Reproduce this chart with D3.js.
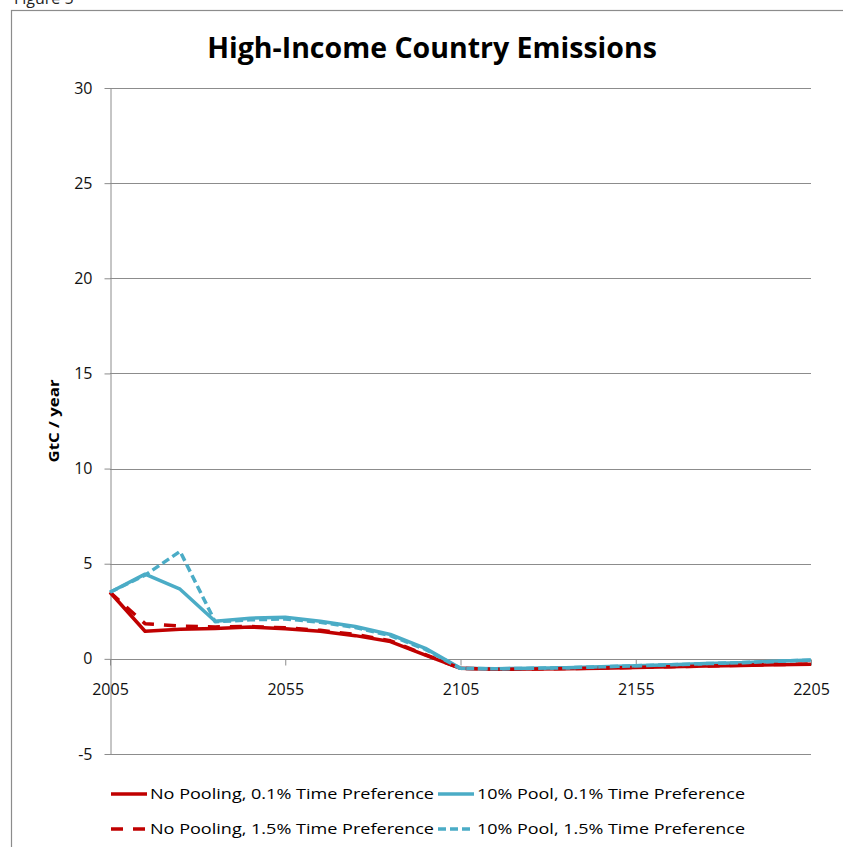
<!DOCTYPE html>
<html>
<head>
<meta charset="utf-8">
<script src="https://cdn.jsdelivr.net/npm/d3@7"></script>
<style>
  body { margin: 0; background: #fff; }
  text { font-family: "Open Sans", "Noto Sans", sans-serif; }
</style>
</head>
<body>
<svg width="843" height="847"></svg>
<script>
// Years, one point every ten years
const years = d3.range(2005, 2206, 10);

// Series values (GtC / year)
const noPool01 = [3.5, 1.45, 1.56, 1.6, 1.67, 1.58, 1.45, 1.22, 0.91, 0.2, -0.5,
                  -0.55, -0.53, -0.52, -0.49, -0.45, -0.42, -0.38, -0.35, -0.31, -0.28];
const pool01   = [3.5, 4.45, 3.66, 1.98, 2.14, 2.19, 1.98, 1.7, 1.28, 0.55, -0.5,
                  -0.52, -0.5, -0.47, -0.42, -0.36, -0.31, -0.25, -0.2, -0.13, -0.06];
const noPool15 = [3.5, 1.85, 1.72, 1.68, 1.7, 1.63, 1.5, 1.28, 0.95, 0.22, -0.5,
                  -0.55, -0.53, -0.51, -0.48, -0.45, -0.41, -0.38, -0.34, -0.3, -0.27];
const pool15   = [3.5, 4.4, 5.65, 1.95, 2.05, 2.1, 1.92, 1.65, 1.22, 0.5, -0.5,
                  -0.52, -0.5, -0.47, -0.42, -0.36, -0.31, -0.25, -0.2, -0.13, -0.07];

const xTicks = [2005, 2055, 2105, 2155, 2205];
const yTicks = [-5, 0, 5, 10, 15, 20, 25, 30];

const series = [
  { name: "No Pooling, 0.1% Time Preference", values: noPool01, color: "#C00000", dash: null },
  { name: "10% Pool, 0.1% Time Preference",   values: pool01,   color: "#4BACC6", dash: null },
  { name: "No Pooling, 1.5% Time Preference", values: noPool15, color: "#C00000", dash: "12,10" },
  { name: "10% Pool, 1.5% Time Preference",   values: pool15,   color: "#4BACC6", dash: "8,4" }
];

const svg = d3.select("svg");

// Caption above the chart box (cut by the top edge, as in the source)
svg.append("text")
    .attr("x", 14)
    .attr("y", 4)
    .style("font-size", "16px")
    .style("fill", "#222")
    .text("Figure 5");

// Outer chart border
svg.append("rect")
    .attr("x", 11.5)
    .attr("y", 10.5)
    .attr("width", 900)
    .attr("height", 900)
    .attr("fill", "none")
    .attr("stroke", "#8c8c8c")
    .attr("stroke-width", 1.2);

// Title
svg.append("text")
    .attr("x", 432)
    .attr("y", 58)
    .attr("text-anchor", "middle")
    .style("font-size", "28.5px")
    .style("font-weight", "bold")
    .text("High-Income Country Emissions");

// Scales
const x = d3.scaleLinear().domain([2005, 2205]).range([110, 811]);
const y = d3.scaleLinear().domain([-5, 30]).range([754, 88]);

// Gridlines
svg.append("g")
    .selectAll("line")
    .data(yTicks)
    .enter()
    .append("line")
    .attr("x1", 110)
    .attr("x2", 811)
    .attr("y1", d => Math.round(y(d)) + 0.5)
    .attr("y2", d => Math.round(y(d)) + 0.5)
    .attr("stroke", "#8c8c8c")
    .attr("stroke-width", 1);

// Y axis (plain hyphen for negatives, like the source)
const yAxis = svg.append("g")
    .attr("transform", "translate(110.5,0)")
    .call(d3.axisLeft(y).tickValues(yTicks).tickSize(6).tickPadding(12)
        .tickSizeOuter(0).tickFormat(d => String(d)));
yAxis.select(".domain").attr("stroke", "#8c8c8c");
yAxis.selectAll(".tick line").attr("stroke", "#8c8c8c");
yAxis.selectAll(".tick text")
    .style("font-size", "16px")
    .style("font-family", "'Open Sans', sans-serif")
    .attr("fill", "#111");

// X axis along zero
const xAxis = svg.append("g")
    .attr("transform", `translate(0,${Math.round(y(0)) + 0.5})`)
    .call(d3.axisBottom(x).tickValues(xTicks).tickSize(6).tickPadding(18)
        .tickFormat(d => String(d)).tickSizeOuter(0));
xAxis.select(".domain").remove();
xAxis.selectAll(".tick line").attr("stroke", "#8c8c8c");
xAxis.selectAll(".tick text")
    .style("font-size", "16px")
    .style("font-family", "'Open Sans', sans-serif")
    .attr("fill", "#111");

// Y axis label
svg.append("text")
    .attr("transform", "rotate(-90)")
    .attr("x", -421)
    .attr("y", 59)
    .attr("text-anchor", "middle")
    .style("font-size", "15px")
    .style("font-weight", "bold")
    .attr("textLength", 83)
    .attr("lengthAdjust", "spacingAndGlyphs")
    .text("GtC / year");

// Lines
const line = d3.line()
    .x((d, i) => x(years[i]))
    .y(d => y(d));

svg.append("g")
    .selectAll("path")
    .data(series)
    .enter()
    .append("path")
    .attr("d", d => line(d.values))
    .attr("fill", "none")
    .attr("stroke", d => d.color)
    .attr("stroke-width", 3.5)
    .attr("stroke-dasharray", d => d.dash)
    .attr("stroke-linejoin", "round");

// Legend, two rows of two
const legendPos = [
  { x: 111, y: 794 }, { x: 438, y: 794 },
  { x: 111, y: 829 }, { x: 438, y: 829 }
];
const legend = svg.append("g");
series.forEach((s, i) => {
    const p = legendPos[i];
    legend.append("line")
        .attr("x1", p.x)
        .attr("x2", p.x + 36)
        .attr("y1", p.y)
        .attr("y2", p.y)
        .attr("stroke", s.color)
        .attr("stroke-width", 3.5)
        .attr("stroke-dasharray", s.dash);
    legend.append("text")
        .attr("x", p.x + 39)
        .attr("y", p.y + 5)
        .style("font-size", "14.5px")
        .attr("textLength", i % 2 === 0 ? 284 : 268)
        .attr("lengthAdjust", "spacingAndGlyphs")
        .text(s.name);
});
</script>
</body>
</html>
